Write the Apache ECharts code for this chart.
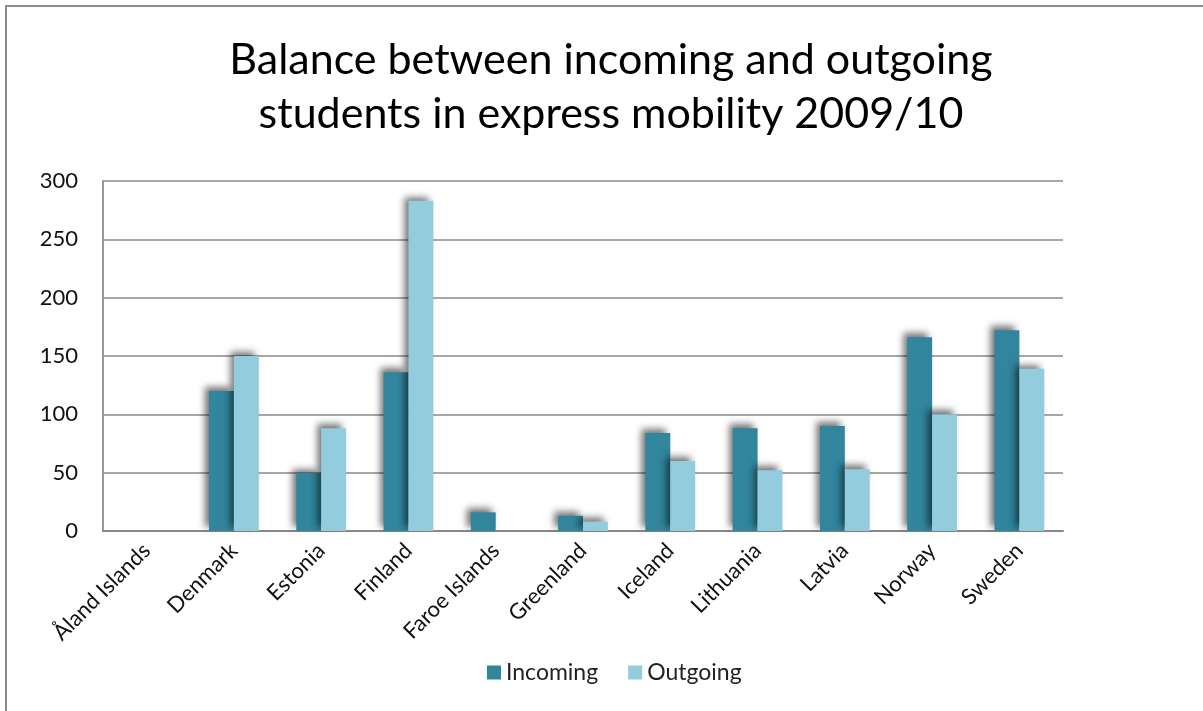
<!DOCTYPE html>
<html><head><meta charset="utf-8">
<script src="https://cdn.jsdelivr.net/npm/echarts@6/dist/echarts.min.js"></script>
<style>html,body{margin:0;padding:0;background:#fff}#c{width:1203px;height:711px}</style>
</head><body><div id="c"></div>
<script>
const categories = ['Åland Islands','Denmark','Estonia','Finland','Faroe Islands','Greenland','Iceland','Lithuania','Latvia','Norway','Sweden'];
const incoming = [0,120,50,136,16,13,84,88,90,166,172];
const outgoing = [0,150,88,283,0,8,60,52,53,100,139];
const yTicks = [0,50,100,150,200,250,300];
const FONT = 'Lato, "Open Sans", sans-serif';
const chart = echarts.init(document.getElementById('c'));
const shadow = {shadowColor:'rgba(0,0,0,0.55)', shadowBlur:7, shadowOffsetX:-4, shadowOffsetY:-4};
chart.setOption({
  animation:false,
  graphic:[{type:'rect', shape:{x:6,y:6,width:1220,height:720}, style:{fill:'none', stroke:'#8c8c8c', lineWidth:2}, z:-1}],
  title:{text:'Balance between incoming and outgoing\nstudents in express mobility 2009/10', left:606, textAlign:'center', top:28,
    textStyle:{fontFamily:FONT, fontSize:43, fontWeight:'normal', color:'#000', lineHeight:54}},
  legend:{bottom:22, left:482, itemWidth:14, itemHeight:14, itemGap:30, icon:'rect',
    textStyle:{fontFamily:FONT, fontSize:23, color:'#222'}, data:['Incoming','Outgoing']},
  grid:{left:103, right:140, top:181, bottom:180, containLabel:false},
  xAxis:{type:'category', data:categories,
    axisLine:{lineStyle:{color:'#888', width:2}}, axisTick:{show:false},
    axisLabel:{rotate:45, interval:0, fontFamily:FONT, fontSize:22, color:'#111', margin:16}},
  yAxis:{type:'value', min:0, max:300, interval:50,
    axisLine:{show:true, lineStyle:{color:'#999', width:2}}, axisTick:{show:false},
    splitLine:{lineStyle:{color:'#8a8a8a', width:1.5}},
    axisLabel:{fontFamily:FONT, fontSize:22, color:'#111', margin:25,
      formatter:v=>yTicks.includes(v)?String(v):''}},
  series:[
    {name:'Incoming', type:'bar', data:incoming, barGap:'0%', barCategoryGap:'43%',
      itemStyle:Object.assign({color:'#31859C'}, shadow)},
    {name:'Outgoing', type:'bar', data:outgoing, barGap:'0%', barCategoryGap:'43%',
      itemStyle:Object.assign({color:'#93CDDD'}, shadow)}
  ]
});
</script></body></html>
